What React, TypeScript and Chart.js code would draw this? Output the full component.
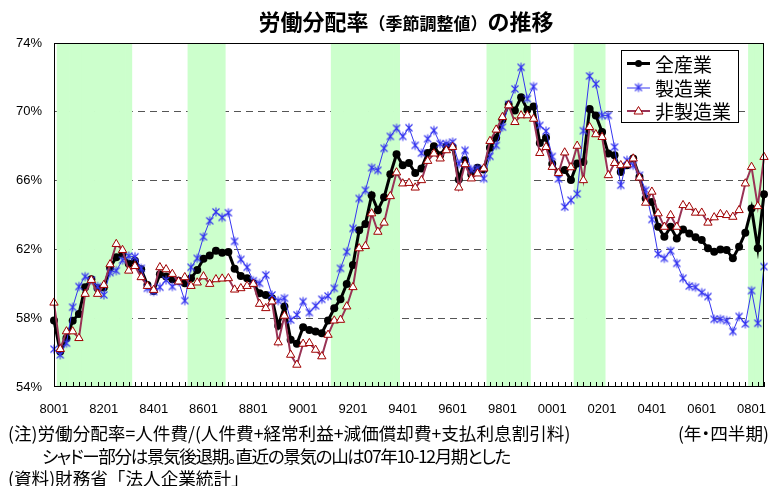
import React, { useEffect, useRef } from 'react';
import { Chart, registerables } from 'chart.js';

Chart.register(...registerables);

// ---- categories: quarterly 1980Q1 .. 2008Q3 ----
const START_YEAR = 1980;
const QUARTER_COUNT = 115;
const quarterLabels: string[] = Array.from({ length: QUARTER_COUNT }, (_, i) => {
  const y = (START_YEAR + Math.floor(i / 4)) % 100;
  return String(y).padStart(2, '0') + '0' + ((i % 4) + 1);
});

// recession (shaded) periods, first and last shaded quarter
const recessionStarts = ['8002', '8503', '9102', '9703', '0101', '0801'];
const recessionEnds = ['8301', '8604', '9304', '9901', '0201', '0803'];

// ---- series (%) ----
const allIndustry = [
  57.86, 56.07, 56.84, 57.85, 58.25, 59.8, 60.26, 59.74, 59.78, 60.94,
  61.54, 61.75, 61.17, 61.34, 60.84, 59.93, 59.58, 60.55, 60.42, 60.26,
  60.18, 60.03, 60.32, 60.8, 61.45, 61.65, 61.92, 61.81, 61.85, 60.87,
  60.45, 60.32, 60.03, 59.45, 59.35, 59.16, 57.56, 58.68, 56.74, 56.51,
  57.48, 57.32, 57.23, 57.13, 57.86, 58.58, 59.1, 59.99, 61.09, 63.12,
  63.47, 65.15, 64.28, 65.03, 66.37, 67.53, 66.89, 67.02, 66.44, 66.7,
  67.61, 67.99, 67.47, 67.99, 67.95, 66.06, 67.18, 66.37, 66.75, 66.64,
  67.91, 68.49, 69.54, 70.43, 70.08, 70.85, 70.12, 70.31, 68.18, 68.49,
  66.98, 66.44, 66.62, 66.04, 67.0, 67.08, 70.17, 69.79, 68.82, 67.57,
  67.47, 66.5, 66.89, 67.28, 66.21, 64.96, 64.76, 63.31, 62.73, 63.31,
  62.64, 63.16, 62.93, 62.7, 62.54, 62.06, 61.86, 62.0, 61.96, 61.48,
  62.15, 62.97, 64.38, 62.06, 65.21,
];

const manufacturing = [
  56.2, 55.87, 56.55, 58.64, 59.84, 60.42, 60.22, 59.84, 59.35, 60.65,
  60.76, 61.38, 61.61, 61.57, 60.9, 59.74, 59.55, 59.8, 60.22, 59.84,
  60.13, 59.02, 60.96, 61.48, 62.73, 63.66, 64.18, 63.86, 64.13, 62.47,
  61.42, 60.96, 60.18, 60.03, 60.51, 59.35, 59.02, 59.16, 57.9, 58.19,
  58.97, 58.33, 58.72, 59.1, 59.29, 59.74, 60.9, 61.86, 63.22, 64.96,
  65.44, 66.75, 66.6, 67.88, 68.57, 69.04, 68.57, 69.07, 68.05, 67.6,
  68.43, 68.92, 68.14, 68.14, 68.24, 66.98, 67.76, 66.64, 66.7, 66.12,
  67.41, 68.05, 69.11, 70.43, 71.33, 72.59, 70.76, 71.47, 69.21, 68.88,
  67.4, 66.1, 64.47, 64.86, 65.23, 68.9, 72.08, 71.62, 69.79, 69.79,
  67.95, 65.73, 67.18, 66.89, 66.31, 65.44, 63.74, 61.73, 61.48, 61.92,
  61.19, 60.32, 59.87, 59.8, 59.49, 59.26, 57.94, 57.94, 57.86, 57.23,
  58.1, 57.67, 59.6, 57.71, 61.0,
];

const nonManufacturing = [
  58.9, 56.2, 57.23, 57.23, 56.84, 59.41, 60.22, 59.41, 59.93, 61.13,
  62.31, 61.96, 60.76, 61.03, 60.38, 59.87, 59.64, 60.96, 60.84, 60.57,
  60.13, 60.38, 59.87, 60.07, 60.43, 59.99, 60.26, 60.3, 60.32, 59.66,
  59.74, 59.87, 59.99, 58.83, 58.58, 58.97, 56.59, 58.14, 55.87, 55.29,
  56.51, 56.55, 56.16, 55.78, 57.03, 57.86, 57.9, 58.68, 59.8, 62.06,
  62.19, 64.09, 63.02, 63.55, 65.09, 66.47, 65.83, 65.86, 65.59, 66.02,
  67.14, 67.57, 67.28, 67.76, 67.95, 65.59, 66.95, 66.12, 66.41, 66.7,
  68.3, 68.96, 69.69, 70.37, 69.4, 69.79, 69.79, 69.59, 67.6, 67.95,
  66.79, 66.44, 67.63, 66.77, 68.02, 66.02, 69.11, 68.69, 68.53, 66.31,
  67.02, 66.89, 66.93, 67.28, 66.17, 64.71, 65.35, 64.09, 63.31, 63.99,
  63.31, 64.57, 64.47, 64.13, 64.13, 63.55, 63.86, 64.05, 63.99, 63.89,
  64.28, 65.83, 66.79, 64.51, 67.37,
];

const seriesNames = ['全産業', '製造業', '非製造業'];
const yTicks = [54, 58, 62, 66, 70, 74];

const JP = '"Noto Sans CJK JP", "Noto Sans", sans-serif';
const LAT = '"Liberation Sans", Arial, sans-serif';

const BLACK = '#000000';
const BLUE = '#3535f0';
const PLUM = '#993355';
const TRI = '#a00000';
const SHADE = '#ccffcc';

function inRecession(label: string): boolean {
  const idx = quarterLabels.indexOf(label);
  for (let k = 0; k < recessionStarts.length; k++) {
    const a = quarterLabels.indexOf(recessionStarts[k]);
    const b = quarterLabels.indexOf(recessionEnds[k]);
    if (idx >= a && idx <= b) return true;
  }
  return false;
}

function makeStar(color: string, r: number): HTMLCanvasElement {
  const s = Math.ceil(r * 2) + 3;
  const c = document.createElement('canvas');
  c.width = s;
  c.height = s;
  const g = c.getContext('2d')!;
  const cx = s / 2;
  const cy = s / 2;
  g.strokeStyle = color;
  g.lineWidth = 1.1;
  g.beginPath();
  g.moveTo(cx, cy - r);
  g.lineTo(cx, cy + r);
  const d = r * 0.78;
  g.moveTo(cx - d, cy - d);
  g.lineTo(cx + d, cy + d);
  g.moveTo(cx + d, cy - d);
  g.lineTo(cx - d, cy + d);
  g.stroke();
  return c;
}

export default function App() {
  const ref = useRef<HTMLCanvasElement | null>(null);

  useEffect(() => {
    const canvas = ref.current;
    if (!canvas) return;
    const star = makeStar(BLUE, 4.5);

    const overlay = {
      id: 'overlay',
      afterDatasetsDraw(chart: any) {
        const { ctx, chartArea: ca } = chart;
        const x = chart.scales.x;
        ctx.save();
        ctx.strokeStyle = '#000';
        ctx.lineWidth = 1;
        ctx.beginPath();
        for (let i = 0; i < quarterLabels.length; i++) {
          const px = Math.round(x.getPixelForValue(i)) + 0.5;
          ctx.moveTo(px, ca.bottom);
          ctx.lineTo(px, ca.bottom - 5);
        }
        ctx.stroke();
        ctx.lineWidth = 1;
        ctx.strokeRect(Math.round(ca.left) + 0.5, Math.round(ca.top) + 0.5,
          Math.round(ca.width) - 1, Math.round(ca.height) - 1);
        ctx.restore();
      },
      afterDraw(chart: any) {
        const { ctx, chartArea: ca } = chart;
        ctx.save();
        const bx = Math.round(ca.right) - 143;
        const by = Math.round(ca.top) + 7;
        const bw = 117;
        const bh = 72;
        ctx.fillStyle = '#fff';
        ctx.fillRect(bx, by, bw, bh);
        ctx.strokeStyle = '#000';
        ctx.lineWidth = 1;
        ctx.strokeRect(bx + 0.5, by + 0.5, bw, bh);
        const rows = [by + 13.5, by + 37.5, by + 61];
        const x0 = bx + 6;
        const x1 = bx + 29;
        const xm = (x0 + x1) / 2;
        // 全産業
        ctx.strokeStyle = BLACK;
        ctx.lineWidth = 3;
        ctx.beginPath();
        ctx.moveTo(x0, rows[0]);
        ctx.lineTo(x1, rows[0]);
        ctx.stroke();
        ctx.fillStyle = BLACK;
        ctx.beginPath();
        ctx.arc(xm, rows[0], 3.5, 0, Math.PI * 2);
        ctx.fill();
        // 製造業
        ctx.strokeStyle = BLUE;
        ctx.lineWidth = 1;
        ctx.beginPath();
        ctx.moveTo(x0, rows[1] + 0.5);
        ctx.lineTo(x1, rows[1] + 0.5);
        ctx.stroke();
        ctx.drawImage(star, xm - star.width / 2, rows[1] - star.height / 2);
        // 非製造業
        ctx.strokeStyle = PLUM;
        ctx.lineWidth = 2;
        ctx.beginPath();
        ctx.moveTo(x0, rows[2]);
        ctx.lineTo(x1, rows[2]);
        ctx.stroke();
        ctx.fillStyle = '#fff';
        ctx.strokeStyle = TRI;
        ctx.lineWidth = 1;
        ctx.beginPath();
        ctx.moveTo(xm, rows[2] - 4.5);
        ctx.lineTo(xm + 4.5, rows[2] + 3);
        ctx.lineTo(xm - 4.5, rows[2] + 3);
        ctx.closePath();
        ctx.fill();
        ctx.stroke();
        ctx.fillStyle = '#000';
        ctx.font = '19px ' + JP;
        ctx.textBaseline = 'middle';
        ctx.textAlign = 'left';
        seriesNames.forEach((n, k) => ctx.fillText(n, bx + 34, rows[k] + 1));
        ctx.restore();
      },
    };

    const chart = new Chart(canvas, {
      type: 'line',
      data: {
        labels: quarterLabels,
        datasets: [
          {
            label: seriesNames[2],
            data: nonManufacturing,
            borderColor: PLUM,
            borderWidth: 2,
            pointStyle: 'triangle',
            pointRadius: 4.8,
            pointBackgroundColor: '#ffffff',
            pointBorderColor: TRI,
            pointBorderWidth: 1,
            tension: 0,
            order: 1,
          } as any,
          {
            label: seriesNames[1],
            data: manufacturing,
            borderColor: BLUE,
            borderWidth: 1,
            pointStyle: star,
            pointRadius: 4.5,
            tension: 0,
            order: 2,
          } as any,
          {
            label: seriesNames[0],
            data: allIndustry,
            borderColor: BLACK,
            borderWidth: 3,
            pointStyle: 'circle',
            pointRadius: 4,
            pointBackgroundColor: BLACK,
            pointBorderColor: BLACK,
            pointBorderWidth: 0,
            tension: 0,
            order: 3,
          } as any,
          {
            type: 'bar',
            label: 'shade',
            data: quarterLabels.map((l) => (inRecession(l) ? [yTicks[0], yTicks[yTicks.length - 1]] : null)),
            backgroundColor: SHADE,
            borderWidth: 0,
            barPercentage: 1,
            categoryPercentage: 1,
            order: 10,
          } as any,
        ],
      },
      options: {
        responsive: false,
        animation: false,
        devicePixelRatio: 1,
        layout: { padding: { left: 0, top: 43, right: 13, bottom: 59 } },
        plugins: {
          legend: { display: false },
          tooltip: { enabled: false },
          title: { display: false },
        },
        scales: {
          x: {
            type: 'category',
            offset: false,
            grid: { display: false, drawTicks: false },
            border: { display: false },
            afterFit: (s: any) => { s.height = 40; },
            ticks: {
              autoSkip: false,
              maxRotation: 0,
              minRotation: 0,
              padding: 15,
              color: '#000',
              font: { family: LAT, size: 13 },
              callback: (_v: any, i: number) => (i % 8 === 0 ? quarterLabels[i] : ''),
            },
          },
          y: {
            min: yTicks[0],
            max: yTicks[yTicks.length - 1],
            afterFit: (s: any) => { s.width = 54; },
            afterBuildTicks: (s: any) => { s.ticks = yTicks.map((v) => ({ value: v })); },
            border: { display: false, dash: [7, 5] },
            grid: {
              drawTicks: false,
              color: (c: any) => (c.tick && (c.tick.value === 54 || c.tick.value === 74) ? 'rgba(0,0,0,0)' : '#555'),
              lineWidth: 1,
            },
            ticks: {
              padding: 12,
              color: '#000',
              font: { family: LAT, size: 13 },
              callback: (v: any) => v + '%',
            },
          },
        },
      } as any,
      plugins: [overlay],
    });
    return () => chart.destroy();
  }, []);

  const note: React.CSSProperties = {
    position: 'absolute',
    fontFamily: JP,
    fontSize: 17.6,
    lineHeight: '23px',
    color: '#000',
    whiteSpace: 'nowrap',
  };
  const palt: React.CSSProperties = { fontFeatureSettings: '"palt"' };

  return (
    <div style={{ position: 'absolute', left: 0, top: 0, width: 779, height: 486, background: '#fff', overflow: 'hidden' }}>
      <canvas ref={ref} width={779} height={486} style={{ position: 'absolute', left: 0, top: 0, width: 779, height: 486 }} />
      <div style={{ position: 'absolute', left: 0, top: 5, width: 812, textAlign: 'center', fontFamily: JP, fontSize: 22, fontWeight: 'bold', lineHeight: '30px', color: '#000', whiteSpace: 'nowrap' }}>
        労働分配率<span style={{ fontSize: 17 }}>（季節調整値）</span>の推移
      </div>
      <div style={{ ...note, left: 8, top: 421 }}>(注)労働分配率=人件費/(人件費+経常利益+減価償却費+支払利息割引料)</div>
      <div style={{ ...note, ...palt, right: 10, top: 421 }}>(年・四半期)</div>
      <div style={{ ...note, ...palt, left: 42, top: 444, letterSpacing: '-1.4px' }}>シャドー部分は景気後退期。直近の景気の山は07年10-12月期とした</div>
      <div style={{ ...note, left: 8, top: 466 }}>(資料)財務省「法人企業統計」</div>
    </div>
  );
}
